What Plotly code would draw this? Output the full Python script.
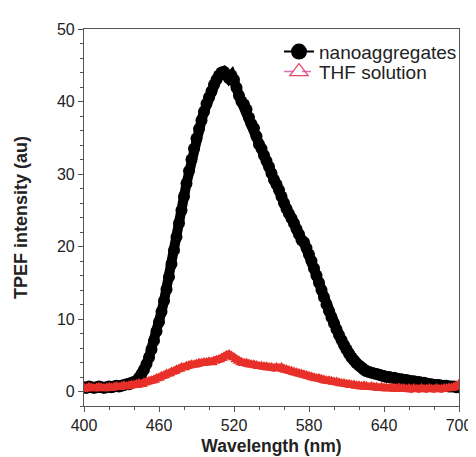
import plotly.graph_objects as go

wavelength = list(range(400, 702, 2))

nano = [0.6, 0.5, 0.7, 0.6, 0.5, 0.6, 0.7, 0.6, 0.5, 0.6, 0.7, 0.6, 0.7, 0.8, 0.7, 0.8, 0.9, 1.0, 1.0, 1.2, 1.3,
        1.5, 1.9, 2.4, 3.0, 3.8, 4.7, 5.8, 7.0, 8.3, 9.6, 11.0, 12.5, 14.1, 15.8, 17.6, 19.5, 21.3, 23.2, 25.0,
        26.9, 28.7, 30.4, 32.0, 33.5, 34.9, 36.2, 37.4, 38.6, 39.7, 40.6, 41.4, 42.3, 43.0, 43.6, 44.0, 44.1,
        43.7, 43.2, 43.6, 43.0, 41.9, 40.8, 40.0, 39.6, 38.9, 37.8, 36.9, 36.3, 35.2, 34.1, 33.5, 32.6, 31.8,
        31.0, 30.1, 29.2, 28.6, 27.8, 26.9, 26.0, 25.2, 24.5, 23.9, 23.2, 22.4, 21.7, 20.9,
        20.6, 19.8, 18.9, 18.0, 17.0, 16.0, 15.0, 14.0, 13.0, 12.0, 11.1, 10.2, 9.4, 8.6, 7.8, 7.1, 6.4, 5.8,
        5.2, 4.7, 4.3, 3.9, 3.6, 3.3, 3.0, 2.8, 2.7, 2.6, 2.5, 2.4, 2.3, 2.2, 2.1, 2.0, 2.0, 1.9, 1.9, 1.8,
        1.7, 1.7, 1.6, 1.6, 1.5, 1.4, 1.4, 1.3, 1.3, 1.2, 1.2, 1.1, 1.0, 1.0, 0.9, 0.9, 0.9, 0.8, 0.8, 0.8,
        0.7, 0.7, 0.7, 0.6, 0.6, 0.6]

thf = [0.5, 0.4, 0.6, 0.5, 0.4, 0.5, 0.6, 0.5, 0.4, 0.5, 0.6, 0.5, 0.6, 0.7, 0.6, 0.7, 0.8, 0.7, 0.8, 0.9,
       0.9, 1.0, 1.1, 1.0, 1.2, 1.3, 1.4, 1.5, 1.6, 1.8, 1.9, 2.1, 2.2, 2.4, 2.5, 2.7, 2.8, 3.0, 3.1, 3.3,
       3.3, 3.5, 3.6, 3.7, 3.7, 3.8, 3.9, 3.9, 4.0, 4.0, 4.1, 4.0, 4.2, 4.3, 4.4, 4.6, 4.8, 5.0, 5.1, 4.9,
       4.7, 4.4, 4.2, 4.0, 3.9, 3.9, 3.8, 3.7, 3.7, 3.6, 3.5, 3.5, 3.4, 3.4, 3.3, 3.3, 3.2, 3.3, 3.2, 3.3,
       3.1, 3.0, 2.9, 2.8, 2.7, 2.6, 2.5, 2.4, 2.3, 2.2, 2.1, 2.0, 1.9, 1.8, 1.8, 1.7, 1.6, 1.5, 1.5, 1.4,
       1.3, 1.3, 1.2, 1.1, 1.1, 1.0, 1.0, 0.9, 0.9, 0.8, 0.8, 0.7, 0.8, 0.7, 0.6, 0.7, 0.6, 0.6, 0.5, 0.6,
       0.5, 0.5, 0.4, 0.5, 0.4, 0.4, 0.5, 0.4, 0.4, 0.3, 0.4, 0.3, 0.4, 0.3, 0.3, 0.4, 0.3, 0.3, 0.4, 0.3,
       0.3, 0.4, 0.3, 0.3, 0.4, 0.4, 0.5, 0.5, 0.6, 0.8, 1.0]

x_ticks = [400, 460, 520, 580, 640, 700]
y_ticks = [0, 10, 20, 30, 40, 50]

FONT = "Liberation Sans, Arial, sans-serif"

fig = go.Figure()
fig.add_trace(go.Scatter(x=wavelength, y=nano, mode="lines+markers", showlegend=False,
                         line=dict(color="black", width=10),
                         marker=dict(symbol="circle", size=12, color="black")))
fig.add_trace(go.Scatter(x=wavelength, y=thf, mode="lines+markers", showlegend=False,
                         line=dict(color="#e8302a", width=7),
                         marker=dict(symbol="triangle-up", size=11, color="#e8302a",
                                     line=dict(width=0))))
# legend entries
fig.add_trace(go.Scatter(x=[None], y=[None], mode="lines+markers", name="nanoaggregates",
                         legend="legend",
                         line=dict(color="black", width=2),
                         marker=dict(symbol="circle", size=16, color="black")))
fig.add_trace(go.Scatter(x=[None], y=[None], mode="lines+markers", name="THF solution",
                         legend="legend2",
                         line=dict(color="#e070b8", width=1.5, dash="dash"),
                         marker=dict(symbol="triangle-up-open", size=16, color="#e8456a",
                                     line=dict(width=1.2))))

axis_common = dict(
    showline=True, linecolor="#555555", linewidth=1.2, mirror=True,
    ticks="outside", ticklen=5, tickwidth=1, tickcolor="#555555",
    showgrid=False, zeroline=False,
    tickfont=dict(family=FONT, size=16, color="#222222"),
)

legend_common = dict(xanchor="left", yanchor="top", bgcolor="rgba(0,0,0,0)",
                     font=dict(family=FONT, size=19, color="#222222"), itemwidth=30)

fig.update_layout(
    width=476, height=457,
    margin=dict(l=75, r=14, t=21, b=53),
    plot_bgcolor="white", paper_bgcolor="white",
    font=dict(family=FONT, color="#222222"),
    xaxis=dict(range=[400, 700], tickvals=x_ticks,
               minor=dict(dtick=20, ticks="outside", ticklen=3, tickcolor="#555555"),
               title=dict(text="<b>Wavelength (nm)</b>", font=dict(size=17.5), standoff=6),
               **axis_common),
    yaxis=dict(range=[-2, 50], tickvals=y_ticks,
               minor=dict(dtick=2, ticks="outside", ticklen=3, tickcolor="#555555"),
               title=dict(text="<b>TPEF intensity (au)</b>", font=dict(size=18), standoff=24),
               **axis_common),
    legend=dict(x=0.52, y=0.99, **legend_common),
    legend2=dict(x=0.52, y=0.937, **legend_common),
)

fig.write_html("out.html")
